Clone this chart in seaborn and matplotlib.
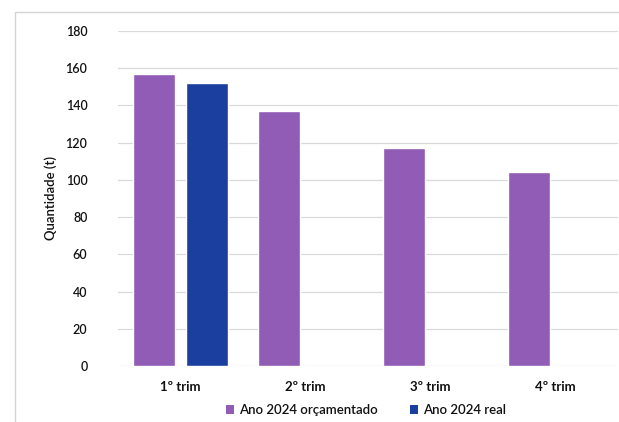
import numpy as np
import pandas as pd
import matplotlib
matplotlib.use("Agg")
import matplotlib.pyplot as plt
from matplotlib.patches import Rectangle, Patch
import seaborn as sns

trimestres = ["1º trim", "2º trim", "3º trim", "4º trim"]
orcamentado = [157, 137, 117, 104]
real = [152, np.nan, np.nan, np.nan]
series = ["Ano 2024 orçamentado", "Ano 2024 real"]
cores = ["#915cb6", "#1b3f9f"]
y_ticks = [0, 20, 40, 60, 80, 100, 120, 140, 160, 180]

df = pd.DataFrame({
    "trim": trimestres * 2,
    "serie": [series[0]] * 4 + [series[1]] * 4,
    "valor": orcamentado + real,
})

sns.set_theme(style="white")
plt.rcParams["font.family"] = ["Lato", "DejaVu Sans"]

fig = plt.figure(figsize=(6.19, 4.22), dpi=100)
ax = fig.add_axes([118 / 619, 1 - 366 / 422, 500 / 619, 335 / 422])

sns.barplot(data=df, x="trim", y="valor", hue="serie", palette=cores,
            width=0.85, gap=0.21, ax=ax, legend=False, saturation=1)

ax.set_ylim(0, 180)
ax.set_xlim(-0.5, 3.5)
ax.set_yticks(y_ticks)
ax.set_yticklabels([str(t) for t in y_ticks], fontsize=9, color="#111111",
                   fontweight="semibold")
ax.tick_params(axis="x", labelsize=9.5, colors="#111111", length=0, pad=11)
ax.tick_params(axis="y", length=0, pad=22)
for lbl in ax.get_xticklabels():
    lbl.set_fontweight("bold")
ax.yaxis.grid(True, color="#d9d9d9", linewidth=0.9)
ax.set_axisbelow(True)
for s in ax.spines.values():
    s.set_visible(False)
ax.set_xlabel("")
ax.set_ylabel("Quantidade (t)", fontsize=9.5, color="#111111", labelpad=6,
              fontweight="semibold")

# chart frame
fig.patches.append(Rectangle((15 / 619, -0.01), 1.0, 1 - 12 / 422 + 0.01,
                             transform=fig.transFigure, fill=False,
                             edgecolor="#d4d4d4", linewidth=1.0))

handles = [Patch(facecolor=c, edgecolor="none") for c in cores]
leg = fig.legend(handles, series, loc="center",
                 bbox_to_anchor=(366 / 619, 1 - 410 / 422),
                 ncol=2, frameon=False, fontsize=9.5, handlelength=0.6,
                 handleheight=0.6, handletextpad=0.4, columnspacing=2.4)
for t in leg.get_texts():
    t.set_fontweight("semibold")
    t.set_color("#111111")

fig.savefig("out.png", dpi=100)
